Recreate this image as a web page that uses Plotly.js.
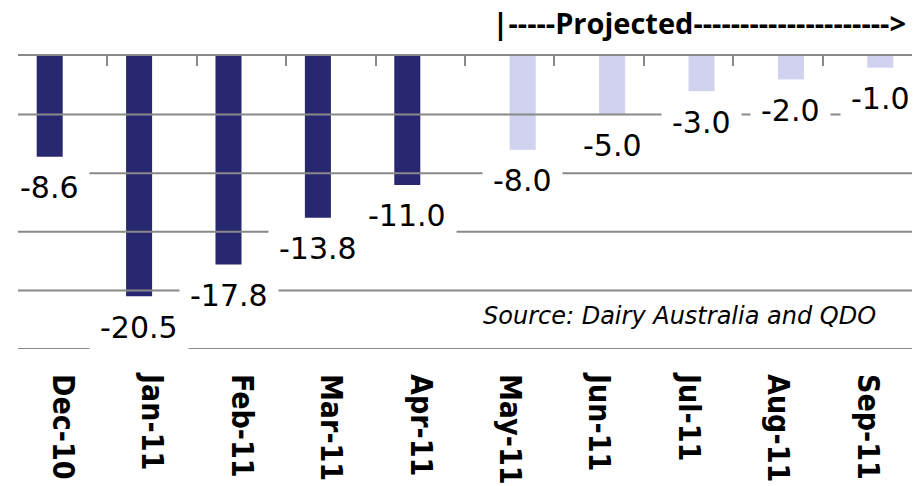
<!DOCTYPE html>
<html>
<head>
<meta charset="utf-8">
<script src="https://cdn.plot.ly/plotly-3.0.1.min.js"></script>
<style>
  html, body { margin: 0; padding: 0; background: #fff; }
  #chart { width: 917px; height: 486px; }
</style>
</head>
<body>
<div id="chart"></div>
<script>
// datos del grafico
const months = ['Dec-10', 'Jan-11', 'Feb-11', 'Mar-11', 'Apr-11', 'May-11', 'Jun-11', 'Jul-11', 'Aug-11', 'Sep-11'];
const actual = [-8.6, -20.5, -17.8, -13.8, -11.0, null, null, null, null, null];
const projected = [null, null, null, null, null, -8.0, -5.0, -3.0, -2.0, -1.0];
const gridValues = [-5, -10, -15, -20, -25];

const gridColor = '#898989';
const darkBar = '#282870';
const lightBar = '#d0d2ef';

// etiquetas de valor con fondo blanco (tapan las lineas)
function valueLabels(vals, shift) {
  const out = [];
  vals.forEach((v, i) => {
    if (v === null) return;
    out.push({
      x: months[i], y: v, xref: 'x', yref: 'y',
      text: '\u2009' + v.toFixed(1) + '\u2009',
      showarrow: false,
      xshift: shift, yshift: -31,
      yanchor: 'middle',
      bgcolor: '#ffffff', borderpad: 4,
      font: { family: 'DejaVu Sans', size: 30, color: '#000' }
    });
  });
  return out;
}

const annotations = valueLabels(actual, -13).concat(valueLabels(projected, 13));
annotations.push({
  xref: 'paper', yref: 'paper', x: 0.962, y: 0.113,
  xanchor: 'right', yanchor: 'middle',
  text: 'Source: Dairy Australia and QDO',
  showarrow: false,
  font: { family: 'DejaVu Sans', size: 24, style: 'italic', color: '#000' }
});

const shapes = gridValues.map(v => ({
  type: 'line', xref: 'paper', x0: 0, x1: 1, yref: 'y', y0: v, y1: v,
  layer: 'above', line: { color: gridColor, width: 2 }
}));

const data = [
  { x: months, y: actual, type: 'bar', marker: { color: darkBar }, hoverinfo: 'skip' },
  { x: months, y: projected, type: 'bar', marker: { color: lightBar }, hoverinfo: 'skip' },
  // traza invisible para que se dibuje el eje de arriba
  { x: months.map((m, i) => i), y: actual, type: 'scatter', mode: 'none', xaxis: 'x2', hoverinfo: 'skip' }
];

const layout = {
  width: 917, height: 486,
  margin: { l: 18, r: 5, t: 56, b: 137 },
  paper_bgcolor: '#fff', plot_bgcolor: '#fff',
  showlegend: false,
  barmode: 'group', bargap: 0.418, bargroupgap: 0,
  title: {
    text: '|-----Projected--------------------->',
    x: 0.988, xanchor: 'right', y: 0.951, yanchor: 'middle',
    font: { family: 'Open Sans', size: 29, weight: 'bold', color: '#000' }
  },
  xaxis: {
    type: 'category', range: [-0.5, 9.5],
    showgrid: false, showline: false, zeroline: false, ticks: '',
    tickangle: 90, ticklabelstandoff: 24,
    tickfont: { family: 'DejaVu Sans Condensed, DejaVu Sans', size: 30, weight: 'bold', color: '#000' }
  },
  xaxis2: {
    overlaying: 'x', side: 'top', anchor: 'y',
    type: 'linear', range: [-0.5, 9.5], tick0: -0.5, dtick: 1,
    ticks: 'inside', ticklen: 10, tickwidth: 2, tickcolor: gridColor,
    showline: true, linecolor: gridColor, linewidth: 2,
    showticklabels: false, showgrid: false, zeroline: false
  },
  yaxis: {
    range: [-25, 0], showgrid: false, zeroline: false,
    showticklabels: false, ticks: '', showline: false
  },
  shapes: shapes,
  annotations: annotations
};

Plotly.newPlot('chart', data, layout, { displayModeBar: false, staticPlot: true });
</script>
</body>
</html>
